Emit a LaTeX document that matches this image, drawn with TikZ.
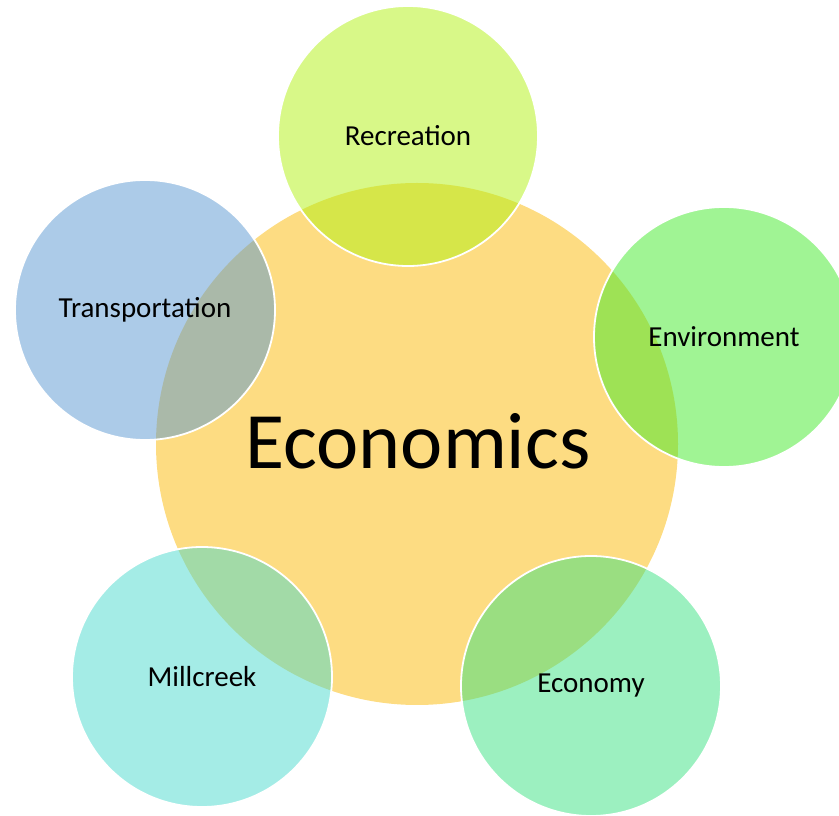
\documentclass[tikz,border=0pt]{standalone}
\usepackage{fontspec}
\setmainfont{Carlito}
\definecolor{hubfill}{RGB}{253,220,130}
\definecolor{recfill}{RGB}{177,241,17}
\definecolor{trafill}{RGB}{89,151,209}
\definecolor{envfill}{RGB}{65,233,41}
\definecolor{ecofill}{RGB}{57,225,129}
\definecolor{milfill}{RGB}{73,217,205}
\begin{document}
\begin{tikzpicture}[x=1pt,y=1pt,
  hub/.style={circle,fill=hubfill,minimum size=522pt,inner sep=0pt},
  petal/.style={circle,fill=#1,fill opacity=0.5,text opacity=1,draw=white,line width=1.8pt,
    minimum size=260pt,inner sep=0pt,font=\fontsize{29}{34}\selectfont}]
\useasboundingbox (0,0) rectangle (839,815);
\clip (0,0) rectangle (839,815);
\node[hub] (eco) at (417,371) {};
\node (ecotext) at (418,374) {\fontsize{80}{90}\selectfont Economics};
\node[petal=recfill] (rec) at (408,679) {Recreation};
\node[petal=envfill] (env) at (724,478) {Environment};
\node[petal=ecofill] (econ) at (591,129) {Economy};
\node[petal=milfill] (mil) at (202,138) {Millcreek};
\node[petal=trafill] (tra) at (145,505) {Transportation};
\end{tikzpicture}
\end{document}
